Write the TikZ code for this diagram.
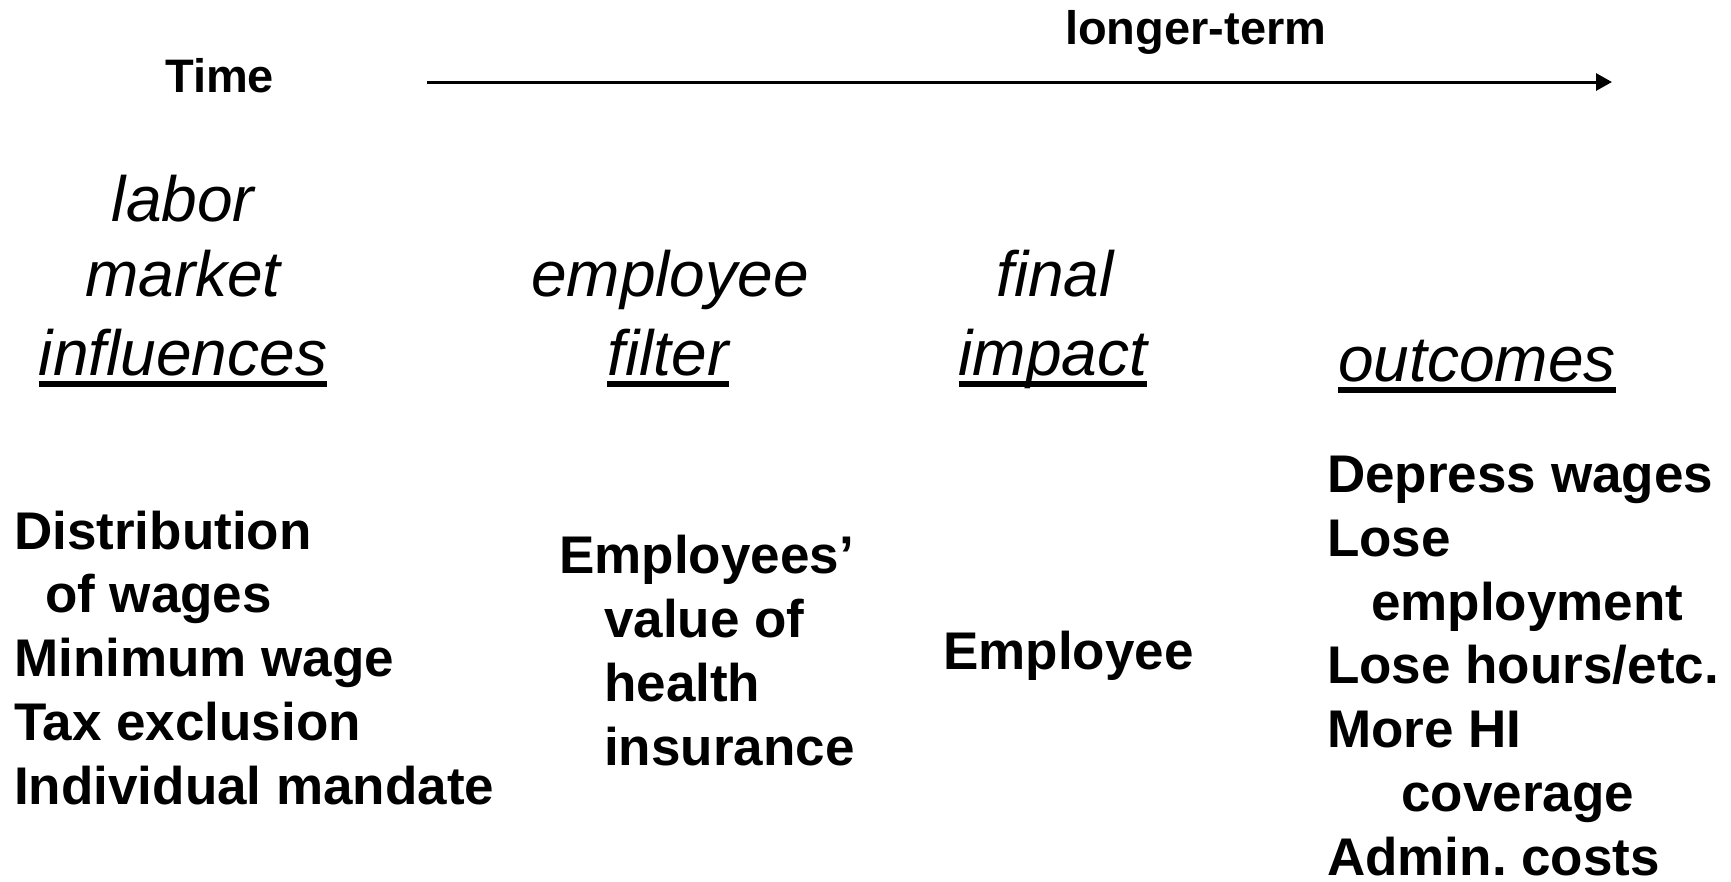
\documentclass[tikz,border=0pt]{standalone}
\usepackage{fontspec}
\setmainfont{Liberation Sans}
\usepackage{tikz}
\usetikzlibrary{positioning, arrows.meta}
\frenchspacing
\tikzset{
  head/.style={font=\fontsize{47}{56}\selectfont\bfseries, inner sep=0, anchor=base west},
  topic/.style={font=\fontsize{64}{76}\selectfont\itshape, inner sep=0, anchor=base},
  item/.style={font=\fontsize{53}{63.7}\selectfont\bfseries, inner sep=0, align=left, anchor=base west},
  uline/.style={line width=6pt},
  timeline/.style={line width=3pt, -{Triangle[length=16pt,width=17pt]}}
}

\begin{document}
\begin{tikzpicture}[x=1pt, y=-1pt]
        \useasboundingbox (0,0) rectangle (1731,881);

        % Time axis
        \node[head] (time) at (165,92) {Time};
        \node[head] (longer) at (1065,44) {longer-term};
        \coordinate (tstart) at (427,82);
        \coordinate (tend) at (1612,82);
        \draw[timeline] (tstart) -- (tend);

        % Column titles
        \node[topic] (labor) at (183,221) {labor};
        \node[topic] (market) at (183,296) {market};
        \node[topic] (infl) at (183,375) {influences};

        \node[topic] (empl) at (670,296) {employee};
        \node[topic] (filter) at (668,375) {filter};

        \node[topic] (final) at (1055,296) {final};
        \node[topic] (impact) at (1053,375) {impact};

        \node[topic] (outc) at (1477,381) {outcomes};

        % Underlines
        \draw[uline] ([yshift=-9pt]infl.base west) -- ([yshift=-9pt]infl.base east);
        \draw[uline] ([yshift=-9pt]filter.base west) -- ([yshift=-9pt]filter.base east);
        \draw[uline] ([yshift=-9pt]impact.base west) -- ([yshift=-9pt]impact.base east);
        \draw[uline] ([yshift=-9pt]outc.base west) -- ([yshift=-9pt]outc.base east);

        % Column contents (base = last line)
        \node[item] (influences) at (14,804) {Distribution\\\hspace*{31pt}of wages\\Minimum wage\\Tax exclusion\\Individual mandate};
        \node[item] (value) at (559,765) {Employees'\\\hspace*{45pt}value of\\\hspace*{45pt}health\\\hspace*{45pt}insurance};
        \node[item] (employee) at (943,669) {Employee};
        \node[item] (outcomes) at (1327,875) {Depress wages\\Lose\\\hspace*{44pt}employment\\Lose hours/etc.\\More HI\\\hspace*{74pt}coverage\\Admin. costs};

\end{tikzpicture}
\end{document}
